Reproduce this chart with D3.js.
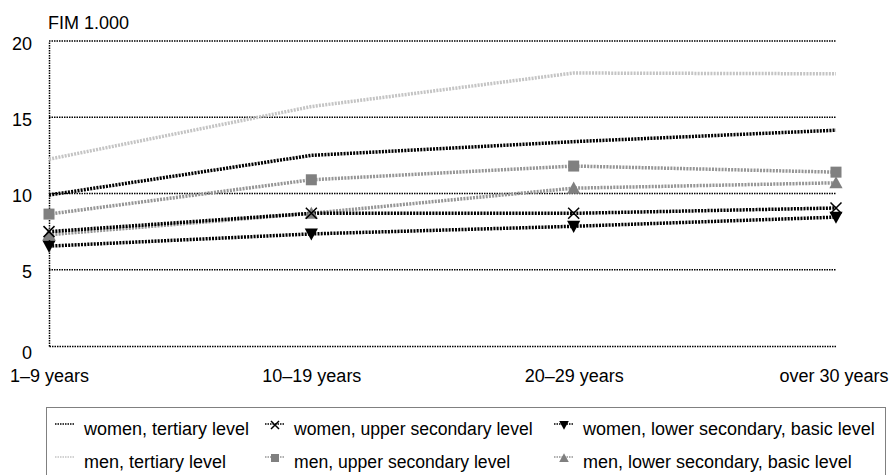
<!DOCTYPE html>
<html><head><meta charset="utf-8">
<script src="https://cdn.jsdelivr.net/npm/d3@7"></script>
<style>body{margin:0;background:#fff}svg{display:block}text{font-family:"Liberation Sans",Arial,sans-serif;fill:#000}</style>
</head><body><svg id="c" width="890" height="475"></svg>
<script>
const categories = ["1–9 years", "10–19 years", "20–29 years", "over 30 years"];
const yTicks = [0, 5, 10, 15, 20];
const unitLabel = "FIM 1.000";
const womenTertiary = [9.9, 12.5, 13.4, 14.15];
const womenUpperSec = [7.5, 8.7, 8.7, 9.05];
const womenLowerSec = [6.55, 7.35, 7.85, 8.45];
const menTertiary = [12.25, 15.7, 17.9, 17.85];
const menUpperSec = [8.65, 10.9, 11.8, 11.4];
const menLowerSec = [7.3, 8.7, 10.35, 10.7];
const seriesNames = ["women, tertiary level", "women, upper secondary level", "women, lower secondary, basic level",
  "men, tertiary level", "men, upper secondary level", "men, lower secondary, basic level"];

const series = [
  {name: seriesNames[3], values: menTertiary, color: "#c4c4c4", marker: null},
  {name: seriesNames[4], values: menUpperSec, color: "#959595", mcolor: "#808080", marker: "square"},
  {name: seriesNames[5], values: menLowerSec, color: "#959595", mcolor: "#808080", marker: "triangle"},
  {name: seriesNames[0], values: womenTertiary, color: "#000", marker: null},
  {name: seriesNames[1], values: womenUpperSec, color: "#000", mcolor: "#000", marker: "x"},
  {name: seriesNames[2], values: womenLowerSec, color: "#000", mcolor: "#000", marker: "down"}
];

const FS = 18;
const svg = d3.select("#c");
const x = d3.scalePoint().domain(categories).range([49, 836]).padding(0);
const y = d3.scaleLinear().domain([0, 20]).range([346, 41]);

// gridlines
svg.append("g").selectAll("line").data(yTicks.filter(d => d > 0)).join("line")
  .attr("x1", 49).attr("x2", 836).attr("y1", d => y(d)).attr("y2", d => y(d))
  .attr("stroke", "#000").attr("stroke-width", 1.5).attr("stroke-dasharray", "1.5,1");

// axes
const yAxis = svg.append("g").attr("transform", "translate(49,0)").call(d3.axisLeft(y).tickValues(yTicks).tickSize(0).tickPadding(17));
yAxis.select(".domain").attr("stroke", "#000").attr("stroke-width", 1.5).attr("stroke-dasharray", "1.5,1");
yAxis.selectAll("text").attr("font-size", FS).attr("dy", d => d === 0 ? "0.68em" : "0.45em").style("font-family", "Liberation Sans, Arial, sans-serif");
const xAxis = svg.append("g").attr("transform", "translate(0,346)").call(d3.axisBottom(x).tickSize(0).tickPadding(23));
xAxis.select(".domain").attr("stroke", "#000").attr("stroke-width", 1.5).attr("stroke-dasharray", "1.5,1");
xAxis.selectAll("text").attr("font-size", FS).style("font-family", "Liberation Sans, Arial, sans-serif")
  .attr("text-anchor", (d, i) => i === categories.length - 1 ? "end" : "middle")
  .attr("dx", (d, i) => i === categories.length - 1 ? 52 : 0);

svg.append("text").attr("x", 48).attr("y", 29).attr("font-size", FS).text(unitLabel);

// lines
const line = d3.line().x((d, i) => x(categories[i])).y(d => y(d));
svg.append("g").selectAll("path").data(series).join("path")
  .attr("d", d => line(d.values)).attr("fill", "none")
  .attr("stroke", d => d.color).attr("stroke-width", 3.5).attr("stroke-dasharray", "2,1.2");

function drawMarker(g, type, color, cx, cy, s) {
  if (type === "square") g.append("rect").attr("x", cx - s/2).attr("y", cy - s/2).attr("width", s).attr("height", s).attr("fill", color);
  else if (type === "triangle") g.append("path").attr("d", `M${cx},${cy - s*0.6}L${cx + s*0.6},${cy + s*0.5}L${cx - s*0.6},${cy + s*0.5}Z`).attr("fill", color);
  else if (type === "down") g.append("path").attr("d", `M${cx - s*0.6},${cy - s*0.5}L${cx + s*0.6},${cy - s*0.5}L${cx},${cy + s*0.6}Z`).attr("fill", color);
  else if (type === "x") {
    g.append("path").attr("d", `M${cx - s/2},${cy - s/2}L${cx + s/2},${cy + s/2}M${cx + s/2},${cy - s/2}L${cx - s/2},${cy + s/2}`)
      .attr("stroke", color).attr("stroke-width", 1.5);
  }
}
const mg = svg.append("g");
series.filter(s => s.marker).forEach(s => {
  s.values.forEach((v, i) => drawMarker(mg, s.marker, s.mcolor, x(categories[i]), y(v), 11));
});

// legend
svg.append("rect").attr("x", 46.5).attr("y", 407.5).attr("width", 839).attr("height", 90)
  .attr("fill", "none").attr("stroke", "#000").attr("stroke-dasharray", "1,1");
const legendOrder = [series[3], series[4], series[5], series[0], series[1], series[2]];
const colX = [55, 265, 554];
const textX = [84, 294, 583];
const rowY = [435, 468];
legendOrder.forEach((s, i) => {
  const c = i % 3, r = Math.floor(i / 3);
  const lx = colX[c], ly = rowY[r];
  const g = svg.append("g");
  g.append("line").attr("x1", lx).attr("x2", lx + 20).attr("y1", ly - 11).attr("y2", ly - 11)
    .attr("stroke", s.color).attr("stroke-width", 1.5).attr("stroke-dasharray", "1.5,1");
  if (s.marker) drawMarker(g, s.marker, s.mcolor, lx + 10, ly - 10, 8);
  g.append("text").attr("x", textX[c]).attr("y", ly).attr("font-size", c === 1 ? 17.6 : FS).text(s.name);
});
</script></body></html>
